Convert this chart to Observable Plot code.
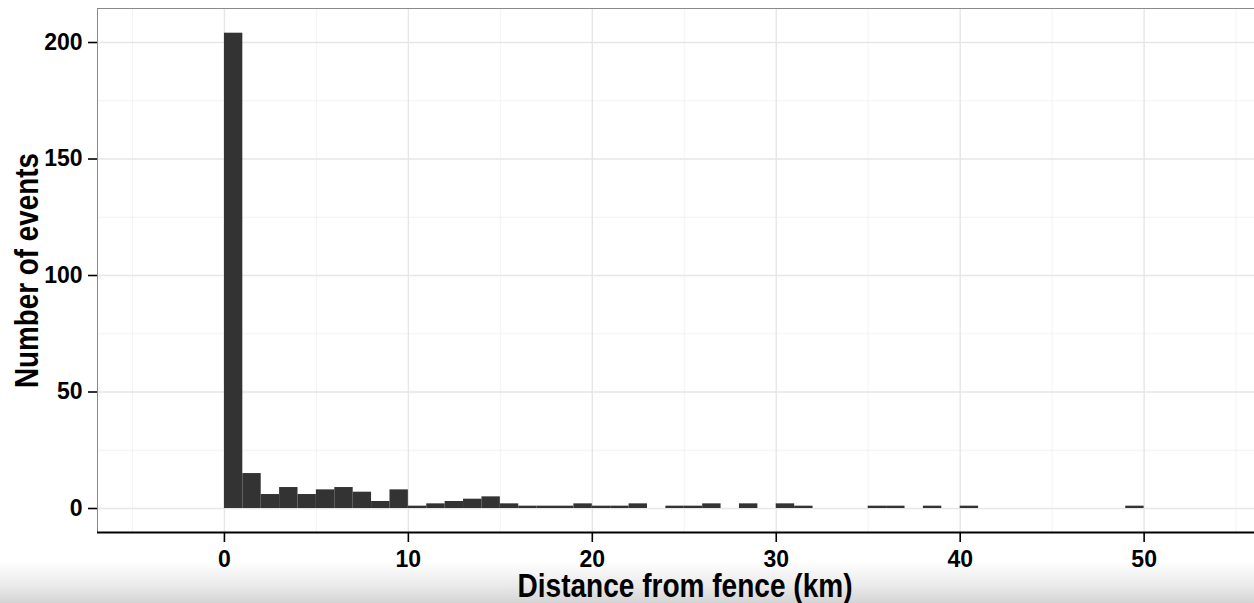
<!DOCTYPE html>
<html>
<head>
<meta charset="utf-8">
<script src="https://cdn.jsdelivr.net/npm/d3@7"></script>
<script src="https://cdn.jsdelivr.net/npm/@observablehq/plot@0.6"></script>
<style>
  html, body { margin: 0; padding: 0; }
  body {
    width: 1254px; height: 603px; overflow: hidden;
    background: linear-gradient(to bottom, #ffffff 0%, #ffffff 93%, #ebebeb 97%, #d4d4d4 100%);
  }
  svg { display: block; background: transparent !important; }
</style>
</head>
<body>
<div id="chart"></div>
<script>
// Histogram bins (1 km wide), start of each bin in km
const binStarts = d3.range(0, 50);
// Number of events per bin
const counts = [
  204, 15, 6, 9, 6, 8, 9, 7, 3, 8,
  1, 2, 3, 4, 5, 2, 1, 1, 1, 2,
  1, 1, 2, 0, 1, 1, 2, 0, 2, 0,
  2, 1, 0, 0, 0, 1, 1, 0, 1, 0,
  1, 0, 0, 0, 0, 0, 0, 0, 0, 1
];
const xTicks = [0, 10, 20, 30, 40, 50];
const yTicks = [0, 50, 100, 150, 200];
const xMinor = [-5, 5, 15, 25, 35, 45, 55];
const yMinor = [25, 75, 125, 175];
const xTitle = "Distance from fence (km)";
const yTitle = "Number of events";

const bins = binStarts.map((s, i) => ({x0: s, x1: s + 1, count: counts[i]})).filter(d => d.count > 0);

const xDomain = [-6.9, 56];
const yDomain = [-10.3, 214.6];

const chart = Plot.plot({
  width: 1254,
  height: 603,
  marginLeft: 97,
  marginTop: 8,
  marginRight: 0,
  marginBottom: 71,
  style: {
    fontFamily: "'Liberation Sans', Arial, sans-serif",
    fontSize: "23px",
    fontWeight: "bold",
    background: "transparent",
    color: "#000"
  },
  x: {domain: xDomain},
  y: {domain: yDomain},
  marks: [
    Plot.ruleX(xMinor, {stroke: "#f0f0f0", strokeWidth: 0.8}),
    Plot.ruleY(yMinor, {stroke: "#f0f0f0", strokeWidth: 0.8}),
    Plot.ruleX(xTicks, {stroke: "#e6e6e6", strokeWidth: 1.4}),
    Plot.ruleY(yTicks, {stroke: "#e6e6e6", strokeWidth: 1.4}),
    Plot.rectY(bins, {x1: "x0", x2: "x1", y1: 0, y2: "count", fill: "#333333", inset: 0}),
    Plot.ruleX([xDomain[0]], {stroke: "#8a8a8a", strokeWidth: 1}),
    Plot.ruleY([yDomain[1]], {stroke: "#8a8a8a", strokeWidth: 1}),
    Plot.ruleY([yDomain[0]], {stroke: "#000", strokeWidth: 2.2}),
    Plot.axisX(xTicks, {
      anchor: "bottom", tickSize: 10, tickPadding: 8, label: null,
      strokeWidth: 1.6, tickFormat: d => String(d)
    }),
    Plot.axisY(yTicks, {
      anchor: "left", tickSize: 9, tickPadding: 6, label: null,
      strokeWidth: 1.6, tickFormat: d => String(d)
    }),
    Plot.text([xTitle], {
      frameAnchor: "bottom", textAnchor: "middle", lineAnchor: "middle", dy: 54, dx: 9,
      fontSize: 33, fontWeight: "bold", fill: "#000"
    }),
    Plot.text([yTitle], {
      frameAnchor: "left", textAnchor: "middle", rotate: -90, lineAnchor: "middle", dx: -70,
      fontSize: 33, fontWeight: "bold", fill: "#000"
    })
  ]
});
// Condense the axis titles horizontally, like the reference's narrow lettering
d3.select(chart).selectAll("text")
  .filter(function () { return this.textContent === xTitle; })
  .attr("textLength", 335).attr("lengthAdjust", "spacingAndGlyphs");
d3.select(chart).selectAll("text")
  .filter(function () { return this.textContent === yTitle; })
  .attr("textLength", 235).attr("lengthAdjust", "spacingAndGlyphs");
document.getElementById("chart").appendChild(chart);
</script>
</body>
</html>
